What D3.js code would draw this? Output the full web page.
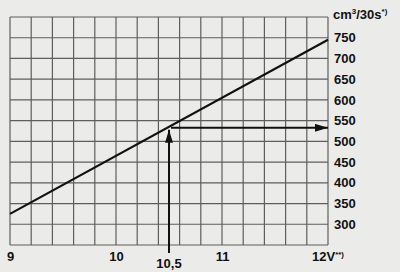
<!DOCTYPE html>
<html>
<head>
<meta charset="utf-8">
<script src="https://cdn.jsdelivr.net/npm/d3@7"></script>
<style>
  html, body { margin: 0; padding: 0; background: #ebebea; }
  svg { display: block; }
  text { font-family: "Liberation Sans", Arial, sans-serif; font-weight: bold; fill: #111; }
</style>
</head>
<body>
<div id="app"></div>
<script>
// data
const voltage = [9, 12];
const flow = [325, 745];
const yTicks = [300, 350, 400, 450, 500, 550, 600, 650, 700, 750];
const xTicks = [9, 10, 11];
const readVoltage = 10.5, readFlow = 535;

const width = 400, height = 272;
const plot = { left: 10, right: 328, top: 17, bottom: 245 };

const svg = d3.select("#app").append("svg")
  .attr("width", width)
  .attr("height", height);

const x = d3.scaleLinear().domain([9, 12]).range([plot.left, plot.right]);
const y = d3.scaleLinear().domain([250, 800]).range([plot.bottom, plot.top]);

/* grid */
const grid = svg.append("g").attr("stroke", "#5e5e5e").attr("stroke-width", 1.2);
grid.selectAll("line.v")
  .data(d3.range(0, 16).map(i => 9 + i * 0.2))
  .join("line")
    .attr("x1", d => x(d)).attr("x2", d => x(d))
    .attr("y1", plot.top).attr("y2", plot.bottom);
grid.selectAll("line.h")
  .data(d3.range(0, 12).map(i => 250 + i * 50))
  .join("line")
    .attr("x1", plot.left).attr("x2", plot.right)
    .attr("y1", d => y(d)).attr("y2", d => y(d));

/* axes (labels only) */
const yAxis = svg.append("g")
  .attr("transform", `translate(${plot.right},0)`)
  .call(d3.axisRight(y).tickValues(yTicks).tickSize(0).tickPadding(6));
const xAxis = svg.append("g")
  .attr("transform", `translate(0,${plot.bottom})`)
  .call(d3.axisBottom(x).tickValues(xTicks).tickSize(0).tickPadding(7).tickFormat(d3.format("d")));
[yAxis, xAxis].forEach(a => {
  a.select(".domain").remove();
  a.selectAll("text").attr("font-size", 13).attr("font-family", null).attr("fill", null);
});

// 12 V label with footnote mark
const v12 = svg.append("text")
  .attr("x", x(12) - 16).attr("y", plot.bottom + 16)
  .attr("font-size", 13);
v12.append("tspan").text("12V");
v12.append("tspan").attr("font-size", 8).attr("dy", -4).text("**)");

// unit label
const unit = svg.append("text")
  .attr("x", 333).attr("y", 19)
  .attr("font-size", 13);
unit.append("tspan").text("cm");
unit.append("tspan").attr("font-size", 8).attr("dy", -5).text("3");
unit.append("tspan").attr("dy", 5).text("/30s");
unit.append("tspan").attr("font-size", 8).attr("dy", -5).text("*)");

// 10,5 label
svg.append("text")
  .attr("x", x(readVoltage)).attr("y", 268)
  .attr("text-anchor", "middle")
  .attr("font-size", 13)
  .text("10,5");

/* arrow heads */
svg.append("defs").append("marker")
  .attr("id", "head")
  .attr("viewBox", "0 0 13 8")
  .attr("refX", 13).attr("refY", 4)
  .attr("markerWidth", 13).attr("markerHeight", 8)
  .attr("markerUnits", "userSpaceOnUse")
  .attr("orient", "auto")
  .append("path")
    .attr("d", "M0,0L13,4L0,8Z")
    .attr("fill", "#111");

/* main line */
svg.append("line")
  .attr("x1", x(voltage[0])).attr("y1", y(flow[0]))
  .attr("x2", x(voltage[1])).attr("y2", y(flow[1]))
  .attr("stroke", "#111").attr("stroke-width", 2.2);

/* reading arrows */
svg.append("line")
  .attr("x1", x(readVoltage)).attr("y1", 253)
  .attr("x2", x(readVoltage)).attr("y2", y(readFlow) + 3)
  .attr("stroke", "#111").attr("stroke-width", 2)
  .attr("marker-end", "url(#head)");
svg.append("line")
  .attr("x1", x(readVoltage) + 2).attr("y1", y(readFlow) + 1)
  .attr("x2", plot.right).attr("y2", y(readFlow) + 1)
  .attr("stroke", "#111").attr("stroke-width", 2)
  .attr("marker-end", "url(#head)");
</script>
</body>
</html>
